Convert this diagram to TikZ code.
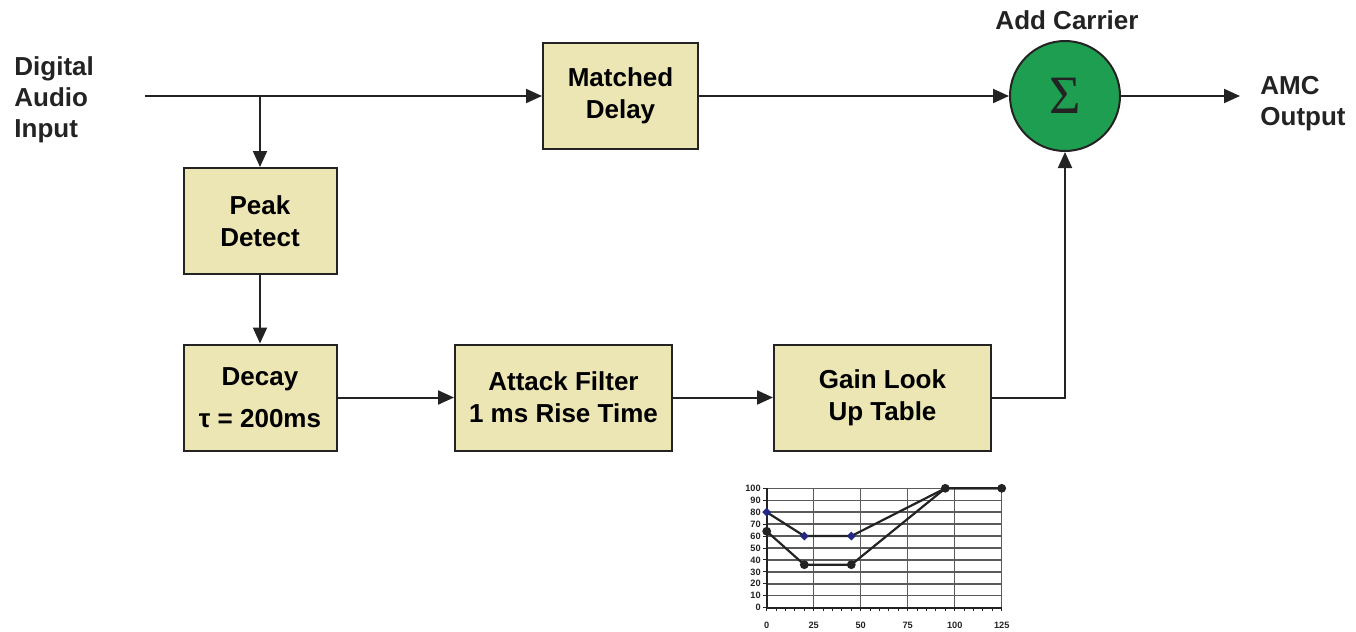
\documentclass[tikz,border=0pt]{standalone}
\usepackage{fontspec}
\setmainfont{Liberation Sans}
\newfontfamily\serifface{Liberation Serif}
\usetikzlibrary{arrows.meta}
\definecolor{boxfill}{RGB}{236,229,180}
\definecolor{sumgreen}{RGB}{30,158,80}
\definecolor{linec}{RGB}{35,35,35}
\definecolor{diamondblue}{RGB}{35,40,130}
\definecolor{gridc}{RGB}{90,90,90}
\begin{document}
\begin{tikzpicture}[x=0.5pt,y=-0.5pt,
  blk/.style={draw=linec,line width=1pt,fill=boxfill,align=center,font=\fontsize{13}{16}\selectfont\bfseries,inner sep=0pt,minimum height=53pt},
  lbl/.style={align=left,font=\fontsize{13}{15.5}\selectfont\bfseries,inner sep=0pt,text=linec},
  conn/.style={draw=linec,line width=1pt,-{Triangle[length=8pt,width=7pt]}},
  wire/.style={draw=linec,line width=1pt},
  tick/.style={font=\fontsize{4.6}{5}\selectfont\bfseries,inner sep=0pt,text=linec}]
\useasboundingbox (0,0) rectangle (1356,632);

% labels
\node[lbl,anchor=west] (inlbl) at (14,100) {Digital\\Audio\\Input};
\node[lbl,anchor=west] (outlbl) at (1260,104) {AMC\\Output};
\node[lbl] (addlbl) at (1067,20) {Add Carrier};

% blocks
\node[blk,minimum width=77.5pt] (md) at (620.5,96) {Matched\\Delay};
\node[blk,minimum width=76.5pt] (pd) at (260,221) {Peak\\Detect};
\node[blk,minimum width=76.5pt] (dc) at (260,397.5) {Decay\\[5pt]τ = 200ms};
\node[blk,minimum width=108.5pt] (af) at (563.5,397.5) {Attack Filter\\1 ms Rise Time};
\node[blk,minimum width=108.5pt] (gl) at (882.5,397.5) {Gain Look\\Up Table};
\node[circle,draw=linec,line width=1pt,fill=sumgreen,minimum size=55pt,inner sep=0pt,
      font=\serifface\fontsize{27}{27}\selectfont,text=linec] (sum) at (1065,96) {Σ};

% connectors
\coordinate (in) at (145,96);
\coordinate (br) at (260,96);
\coordinate (out) at (1240,96);
\draw[wire] (in) -- (br);
\draw[conn] (br) -- (md.west);
\draw[conn] (br) -- (pd.north);
\draw[conn] (md.east) -- (sum.west);
\draw[conn] (sum.east) -- (out);
\draw[conn] (pd.south) -- (dc.north);
\draw[conn] (dc.east) -- (af.west);
\draw[conn] (af.east) -- (gl.west);
\draw[conn] (gl.east) -| (sum.south);

% chart
\begin{scope}[shift={(766.7,607.7)},x=0.94pt,y=0.597pt]
  \foreach \v in {10,20,...,100} \draw[gridc,line width=0.7pt] (0,\v) -- (125,\v);
  \foreach \v in {25,50,75,100,125} \draw[gridc,line width=0.7pt] (\v,0) -- (\v,100);
  \draw[linec,line width=0.8pt] (0,100) -- (0,0) -- (125,0);
  \foreach \v in {0,5,...,125} \draw[linec,line width=0.5pt] (\v,0) -- (\v,-3);
  \foreach \v in {0,10,...,100} {
    \draw[linec,line width=0.5pt] (0,\v) -- (-2,\v);
    \node[tick,anchor=east] at (-3,\v) {\v};
  }
  \foreach \v in {0,25,50,75,100,125} \node[tick,anchor=north] at (\v,-12) {\v};
  \draw[linec,line width=1.1pt] (0,80) -- (20,60) -- (45,60) -- (95,100) -- (125,100);
  \draw[linec,line width=1.1pt] (0,64) -- (20,36) -- (45,36) -- (95,100) -- (125,100);
  \foreach \p in {(0,64),(20,36),(45,36),(95,100),(125,100)}
    \fill[linec] \p circle[radius=2.2pt];
  \foreach \p in {(0,80),(20,60),(45,60)}
    \fill[diamondblue] \p ++(0,2.2pt) -- ++(2.2pt,-2.2pt) -- ++(-2.2pt,-2.2pt) -- ++(-2.2pt,2.2pt) -- cycle;
\end{scope}
\end{tikzpicture}
\end{document}
